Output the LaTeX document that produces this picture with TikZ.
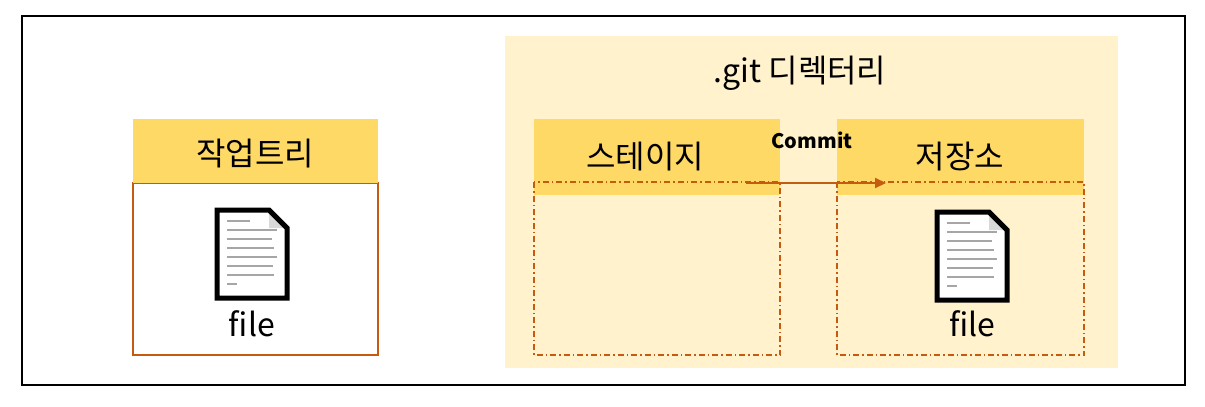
\documentclass[tikz,border=0pt]{standalone}
\usepackage{fontspec}
\setmainfont{Noto Sans CJK KR}
\usetikzlibrary{arrows.meta}
\definecolor{hdr}{HTML}{FFD966}
\definecolor{bgy}{HTML}{FFF2CC}
\definecolor{org}{HTML}{C55A11}
\begin{document}
\begin{tikzpicture}[x=1pt,y=-1pt,
  hdrbox/.style={fill=hdr,draw=none},
  ddbox/.style={draw=org,line width=1.2pt,dash pattern=on 6pt off 3pt on 1.5pt off 3pt},
  lbl/.style={inner sep=0pt,font=\fontsize{32}{36}\selectfont},
  pic/.pic={
    \fill[white] (0,0) -- (52,0) -- (70,18) -- (70,88) -- (0,88) -- cycle;
    \fill[gray!30] (52,0) -- (52,18) -- (70,18) -- cycle;
    \draw[line width=5pt,line join=miter] (0,0) -- (52,0) -- (70,18) -- (70,88) -- (0,88) -- cycle;
    \foreach \y/\l in {11/23,20/50,29/45,38/47,47/50,56/46,65/47,74/10}
      \draw[gray!70,line width=1.6pt] (10,\y) -- (10+\l,\y);
  }]
\useasboundingbox (0,0) rectangle (1205,407);
\fill[white] (0,0) rectangle (1205,407);
\draw[line width=1.6pt] (22,16) rectangle (1185,385);
% working tree
\draw[org,line width=1.2pt] (133,183) rectangle (378,355);
\fill[hdrbox] (133,119) rectangle (378,183);
\node[lbl] (wt) at (255,154) {작업트리};
\pic at (217,210) {pic};
\node[lbl] (f1) at (252,324) {file};
% git dir
\fill[bgy] (505,36) rectangle (1118,368);
\node[lbl] (git) at (800,73) {.git 디렉터리};
\fill[hdrbox] (534,119) rectangle (780,195);
\draw[ddbox] (534,182) rectangle (780,355);
\node[lbl] (st) at (645,157) {스테이지};
\fill[hdrbox] (837,119) rectangle (1084,195);
\draw[ddbox] (837,182) rectangle (1084,355);
\node[lbl] (repo) at (960,157) {저장소};
\pic at (937,212) {pic};
\node[lbl] (f2) at (972,324) {file};
\node[inner sep=0pt,font=\bfseries\fontsize{20}{24}\selectfont] (cm) at (812,140) {Commit};
\coordinate (a1) at (746,183);
\coordinate (a2) at (886,183);
\draw[org,line width=2pt,-{Triangle[length=11pt,width=10pt]}] (a1) -- (a2);
\end{tikzpicture}
\end{document}
